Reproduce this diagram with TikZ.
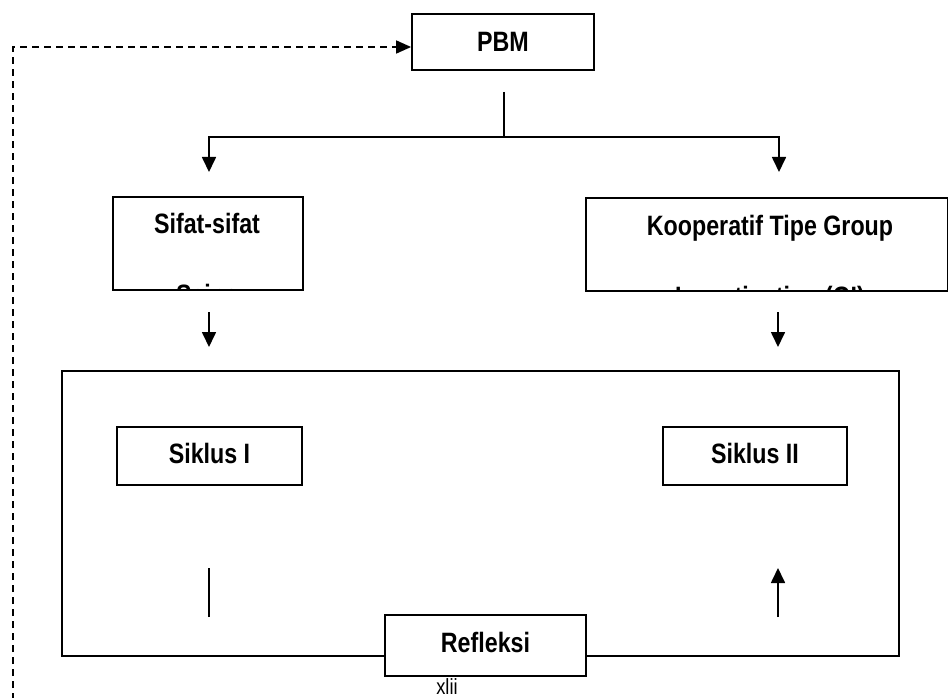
\documentclass[tikz,border=0pt]{standalone}
\usepackage{fontspec}
\setmainfont{Liberation Sans}[FakeStretch=0.83]
\usetikzlibrary{arrows.meta,calc}
\begin{document}
\begin{tikzpicture}[x=1pt,y=-1pt,
  line width=1.7pt,
  frame/.style={draw, line width=1.8pt, fill=white, inner sep=0pt},
  label/.style={inner sep=0pt, font=\bfseries\fontsize{28}{30}\selectfont},
  tip/.style={-{Triangle[length=15pt,width=14pt]}},
  loopback/.style={line width=1.6pt, dash pattern=on 7pt off 5pt}
]
\useasboundingbox (0,0) rectangle (948,698);

% feedback loop on the left
\coordinate (fbstart) at (13,700);

% top box
\node[frame, minimum width=182pt, minimum height=56pt] (pbm) at (503,42) {};
\node[label] (pbmtext) at (503,42) {PBM};

% second row boxes (second text line is cut off by the frame)
\node[frame, minimum width=190pt, minimum height=93pt, anchor=north west] (sifat) at (112,196) {};
\node[frame, minimum width=362pt, minimum height=93pt, anchor=north west] (koop) at (585,197) {};
\begin{scope}
  \clip ([xshift=1pt,yshift=1pt]sifat.south west) rectangle ([xshift=-1pt,yshift=-1pt]sifat.north east);
  \node[label, anchor=base] (sifatA) at (207,233) {Sifat-sifat};
  \node[label, anchor=base] (sifatB) at (207,304) {Sains};
\end{scope}
\begin{scope}
  \clip ([xshift=1pt,yshift=1pt]koop.south west) rectangle ([xshift=-1pt,yshift=-1pt]koop.north east);
  \node[label, anchor=base] (koopA) at (770,235) {Kooperatif Tipe Group};
  \node[label, anchor=base] (koopB) at (770,306) {Investigation (GI)};
\end{scope}

% cycle frame
\node[frame, fill=none, minimum width=837pt, minimum height=285pt, anchor=north west] (cycle) at (61,370) {};

\node[frame, minimum width=185pt, minimum height=58pt] (s1) at (209.5,456) {};
\node[label] (s1text) at (209.5,453) {Siklus I};
\node[frame, minimum width=184pt, minimum height=58pt] (s2) at (755,456) {};
\node[label] (s2text) at (755,453) {Siklus II};

\node[frame, minimum width=201pt, minimum height=61pt] (refl) at (485.5,645.5) {};
\node[label] (refltext) at (485.5,642.5) {Refleksi};

\node[inner sep=0pt, font=\fontsize{22}{22}\selectfont, anchor=base] (page) at (447,694) {xlii};

% connectors
\coordinate (pbmdrop) at (504,92);
\coordinate (split) at (504,137);
\coordinate (lefttip) at (209,172);
\coordinate (righttip) at (779,172);
\draw (pbmdrop) -- (split);
\draw[tip] (split) -| (lefttip);
\draw[tip] (split) -| (righttip);

\coordinate (ldown0) at (209,312);
\coordinate (ldown1) at (209,347);
\coordinate (rdown0) at (778,312);
\coordinate (rdown1) at (778,347);
\draw[tip] (ldown0) -- (ldown1);
\draw[tip] (rdown0) -- (rdown1);

\coordinate (lup0) at (209,617);
\coordinate (lup1) at (209,568);
\coordinate (rup0) at (778,617);
\coordinate (rup1) at (778,568);
\draw (lup0) -- (lup1);
\draw[tip] (rup0) -- (rup1);

\draw[loopback, -{Triangle[length=15pt,width=13pt]}] (fbstart) |- ($(pbm.west)+(0,5)$);
\end{tikzpicture}
\end{document}
